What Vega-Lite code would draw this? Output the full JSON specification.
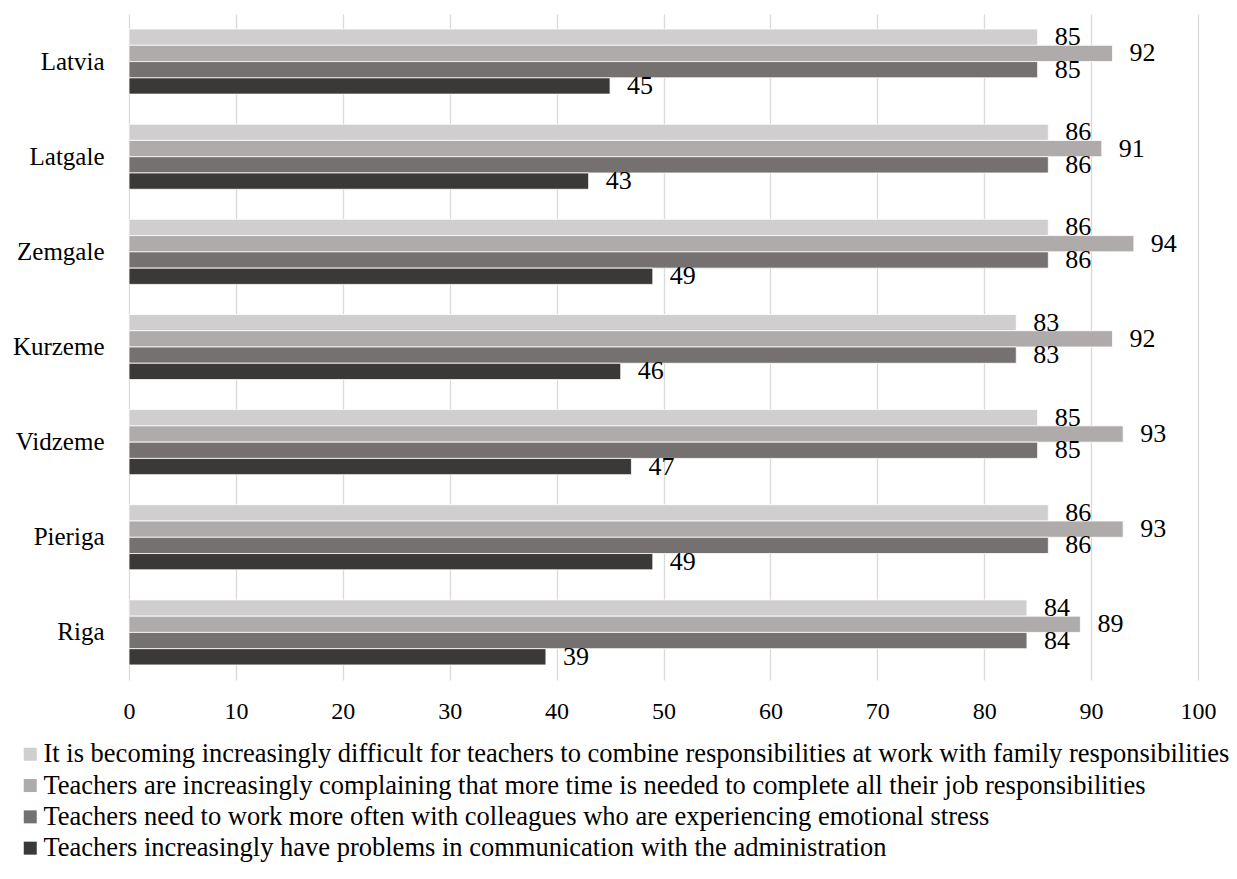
{
  "$schema": "https://vega.github.io/schema/vega-lite/v6.json",
  "autosize": "none",
  "width": 1069,
  "height": 666,
  "padding": {"left": 129, "top": 14, "right": 39, "bottom": 199},
  "background": "white",
  "config": {"font": "Liberation Serif", "view": {"stroke": null}, "axis": {"labelFont": "Liberation Serif"}, "legend": {"labelFont": "Liberation Serif"}, "text": {"font": "Liberation Serif"}},
  "data": {
    "values": [
      {"region": "Latvia", "series": "It is becoming increasingly difficult for teachers to combine responsibilities at work with family responsibilities", "value": 85},
      {"region": "Latvia", "series": "Teachers are increasingly complaining that more time is needed to complete all their job responsibilities", "value": 92},
      {"region": "Latvia", "series": "Teachers need to work more often with colleagues who are experiencing emotional stress", "value": 85},
      {"region": "Latvia", "series": "Teachers increasingly have problems in communication with the administration", "value": 45},
      {"region": "Latgale", "series": "It is becoming increasingly difficult for teachers to combine responsibilities at work with family responsibilities", "value": 86},
      {"region": "Latgale", "series": "Teachers are increasingly complaining that more time is needed to complete all their job responsibilities", "value": 91},
      {"region": "Latgale", "series": "Teachers need to work more often with colleagues who are experiencing emotional stress", "value": 86},
      {"region": "Latgale", "series": "Teachers increasingly have problems in communication with the administration", "value": 43},
      {"region": "Zemgale", "series": "It is becoming increasingly difficult for teachers to combine responsibilities at work with family responsibilities", "value": 86},
      {"region": "Zemgale", "series": "Teachers are increasingly complaining that more time is needed to complete all their job responsibilities", "value": 94},
      {"region": "Zemgale", "series": "Teachers need to work more often with colleagues who are experiencing emotional stress", "value": 86},
      {"region": "Zemgale", "series": "Teachers increasingly have problems in communication with the administration", "value": 49},
      {"region": "Kurzeme", "series": "It is becoming increasingly difficult for teachers to combine responsibilities at work with family responsibilities", "value": 83},
      {"region": "Kurzeme", "series": "Teachers are increasingly complaining that more time is needed to complete all their job responsibilities", "value": 92},
      {"region": "Kurzeme", "series": "Teachers need to work more often with colleagues who are experiencing emotional stress", "value": 83},
      {"region": "Kurzeme", "series": "Teachers increasingly have problems in communication with the administration", "value": 46},
      {"region": "Vidzeme", "series": "It is becoming increasingly difficult for teachers to combine responsibilities at work with family responsibilities", "value": 85},
      {"region": "Vidzeme", "series": "Teachers are increasingly complaining that more time is needed to complete all their job responsibilities", "value": 93},
      {"region": "Vidzeme", "series": "Teachers need to work more often with colleagues who are experiencing emotional stress", "value": 85},
      {"region": "Vidzeme", "series": "Teachers increasingly have problems in communication with the administration", "value": 47},
      {"region": "Pieriga", "series": "It is becoming increasingly difficult for teachers to combine responsibilities at work with family responsibilities", "value": 86},
      {"region": "Pieriga", "series": "Teachers are increasingly complaining that more time is needed to complete all their job responsibilities", "value": 93},
      {"region": "Pieriga", "series": "Teachers need to work more often with colleagues who are experiencing emotional stress", "value": 86},
      {"region": "Pieriga", "series": "Teachers increasingly have problems in communication with the administration", "value": 49},
      {"region": "Riga", "series": "It is becoming increasingly difficult for teachers to combine responsibilities at work with family responsibilities", "value": 84},
      {"region": "Riga", "series": "Teachers are increasingly complaining that more time is needed to complete all their job responsibilities", "value": 89},
      {"region": "Riga", "series": "Teachers need to work more often with colleagues who are experiencing emotional stress", "value": 84},
      {"region": "Riga", "series": "Teachers increasingly have problems in communication with the administration", "value": 39}
    ]
  },
  "encoding": {
    "y": {
      "field": "region",
      "type": "nominal",
      "sort": ["Latvia", "Latgale", "Zemgale", "Kurzeme", "Vidzeme", "Pieriga", "Riga"],
      "scale": {"paddingInner": 0.316, "paddingOuter": 0.158},
      "axis": {"title": null, "domain": false, "ticks": false, "labelPadding": 25, "labelFontSize": 25, "labelFontWeight": "normal", "labelColor": "#000000", "labelFont": "Liberation Serif"}
    },
    "yOffset": {
      "field": "series",
      "type": "nominal",
      "sort": [
        "It is becoming increasingly difficult for teachers to combine responsibilities at work with family responsibilities",
        "Teachers are increasingly complaining that more time is needed to complete all their job responsibilities",
        "Teachers need to work more often with colleagues who are experiencing emotional stress",
        "Teachers increasingly have problems in communication with the administration"
      ],
      "scale": {"paddingInner": 0, "paddingOuter": 0}
    },
    "x": {
      "field": "value",
      "type": "quantitative",
      "scale": {"domain": [0, 100], "nice": false},
      "axis": {"title": null, "values": [0,10,20,30,40,50,60,70,80,90,100], "domain": false, "ticks": false, "grid": true, "gridColor": "#d9d9d9", "gridWidth": 1.3, "labelPadding": 19, "labelFontSize": 24, "labelFontWeight": "normal", "labelColor": "#000000", "labelFont": "Liberation Serif", "labelFlush": false}
    }
  },
  "layer": [
    {
      "mark": {"type": "bar", "stroke": "#ffffff", "strokeWidth": 0.8},
      "encoding": {
        "color": {
          "field": "series",
          "type": "nominal",
          "scale": {
            "domain": [
              "It is becoming increasingly difficult for teachers to combine responsibilities at work with family responsibilities",
              "Teachers are increasingly complaining that more time is needed to complete all their job responsibilities",
              "Teachers need to work more often with colleagues who are experiencing emotional stress",
              "Teachers increasingly have problems in communication with the administration"
            ],
            "range": ["#d0cecf", "#afabab", "#767171", "#3b3838"]
          },
          "legend": {
            "title": null,
            "orient": "none",
            "legendX": -112,
            "legendY": 727,
            "direction": "vertical",
            "symbolType": "square",
            "symbolSize": 169,
            "symbolStrokeWidth": 0,
            "labelFontSize": 26.5,
            "labelFont": "Liberation Serif",
            "labelColor": "#000000",
            "labelLimit": 1300,
            "labelOffset": 0,
            "rowPadding": 4.3,
            "padding": 0
          }
        }
      }
    },
    {
      "mark": {"type": "text", "align": "left", "baseline": "middle", "dx": 17, "fontSize": 26, "font": "Liberation Serif", "color": "#000000"},
      "encoding": {
        "text": {"field": "value", "type": "quantitative"}
      }
    }
  ]
}
